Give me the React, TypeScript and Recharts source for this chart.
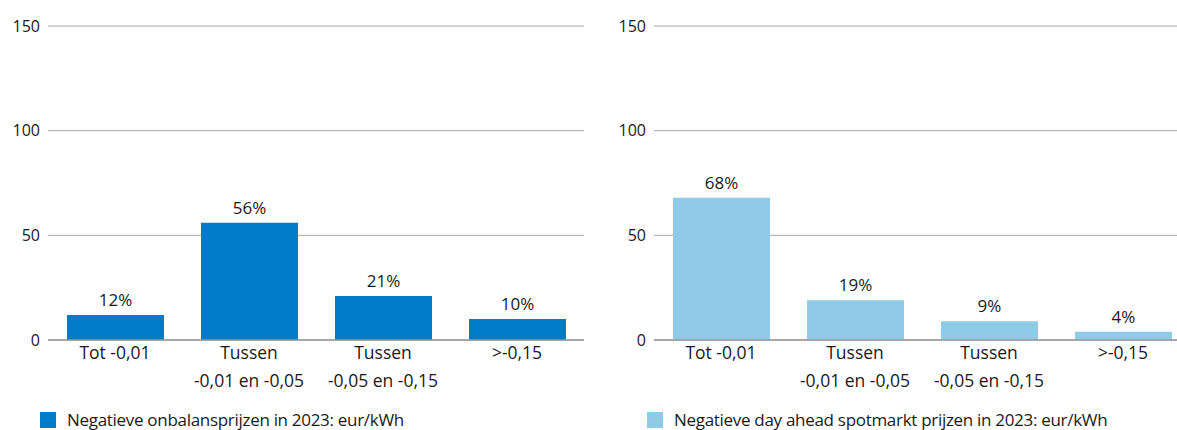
import React from "react";
import { BarChart, Bar, XAxis, YAxis, CartesianGrid, LabelList, Legend } from "recharts";

const categories = ["Tot -0,01", "Tussen\n-0,01 en -0,05", "Tussen\n-0,05 en -0,15", ">-0,15"];
const onbalansValues = [12, 56, 21, 10];
const dayAheadValues = [68, 19, 9, 4];
const yTicks = [0, 50, 100, 150];

const FONT = "'Open Sans', sans-serif";
const TEXT = "#1a1a1a";
const GRID = "#a6a6a6";

const buildRows = (values: number[]) =>
  categories.map((name, i) => ({ name, value: values[i] }));

// two-line category labels, split on "\n"
const CategoryTick = (props: any) => {
  const { x, y, payload } = props;
  const lines = String(payload.value).split("\n");
  return (
    <text x={x} y={y} textAnchor="middle" fill={TEXT} fontSize={17.5} fontFamily={FONT}>
      {lines.map((line, i) => (
        <tspan key={i} x={x} dy={i === 0 ? 11 : 28}>
          {line}
        </tspan>
      ))}
    </text>
  );
};

interface PanelProps {
  values: number[];
  color: string;
  legendLabel: string;
  marginLeft: number;
  legendLeft: number;
}

function Panel({ values, color, legendLabel, marginLeft, legendLeft }: PanelProps) {
  return (
    <BarChart
      width={marginLeft + 48 + 536 + 7}
      height={430}
      data={buildRows(values)}
      margin={{ top: 26, right: 7, bottom: 30, left: marginLeft }}
      style={{ fontFamily: FONT }}
    >
      <CartesianGrid horizontal vertical={false} stroke={GRID} strokeWidth={1} />
      <XAxis
        dataKey="name"
        height={60}
        tick={<CategoryTick />}
        tickLine={false}
        axisLine={{ stroke: "#999999", strokeWidth: 1.5 }}
        interval={0}
      />
      <YAxis
        width={48}
        domain={[0, 150]}
        ticks={yTicks}
        tickLine={false}
        axisLine={false}
        tick={{ fill: TEXT, fontSize: 16, fontFamily: FONT }}
      />
      <Legend
        layout="horizontal"
        verticalAlign="middle"
        align="center"
        wrapperStyle={{ left: legendLeft, top: 408, width: 560, height: 24 }}
        content={() => (
          <div style={{ display: "flex", alignItems: "center", fontFamily: FONT, fontSize: 17, color: TEXT, letterSpacing: -0.3 }}>
            <span style={{ width: 16, height: 16, background: color, marginRight: 11, display: "inline-block" }} />
            <span>{legendLabel}</span>
          </div>
        )}
      />
      <Bar dataKey="value" fill={color} barSize={97} isAnimationActive={false}>
        <LabelList
          dataKey="value"
          position="top"
          offset={9}
          formatter={(v: any) => `${v}%`}
          style={{ fill: TEXT, fontSize: 17, fontFamily: FONT }}
        />
      </Bar>
    </BarChart>
  );
}

export default function App() {
  return (
    <div
      style={{
        position: "absolute",
        left: 0,
        top: 0,
        width: 1177,
        height: 430,
        overflow: "hidden",
        background: "#ffffff",
      }}
    >
      <div style={{ position: "absolute", left: 0, top: 0 }}>
        <Panel
          values={onbalansValues}
          color="#007bc7"
          legendLabel="Negatieve onbalansprijzen in 2023: eur/kWh"
          marginLeft={0}
          legendLeft={40}
        />
      </div>
      <div style={{ position: "absolute", left: 590, top: 0 }}>
        <Panel
          values={dayAheadValues}
          color="#8fcae7"
          legendLabel="Negatieve day ahead spotmarkt prijzen in 2023: eur/kWh"
          marginLeft={16}
          legendLeft={57}
        />
      </div>
    </div>
  );
}
